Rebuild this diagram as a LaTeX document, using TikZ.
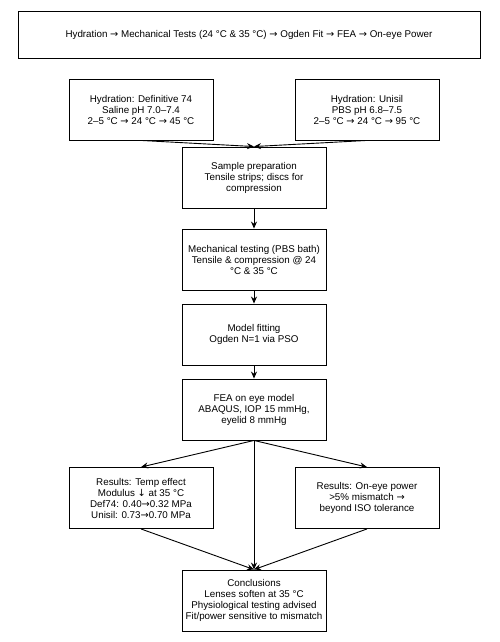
\documentclass[tikz,border=0pt]{standalone}
\usepackage{fontspec}
\setmainfont{Liberation Sans}
\newfontfamily\arrowfont{DejaVu Sans}
\newcommand{\ra}{{\arrowfont →}}
\newcommand{\da}{{\arrowfont ↓}}
\usetikzlibrary{arrows.meta}
\begin{document}
\begin{tikzpicture}[
			x=1pt, y=-1pt,
			box/.style={draw, line width=0.9pt, minimum width=144pt, minimum height=61pt,
					align=center, font=\fontsize{9.8}{11}\selectfont},
			flow/.style={-{Stealth[length=7pt,width=6pt]}, line width=0.9pt}
		]
		\useasboundingbox (0,0) rectangle (499,642);
		\node[box, minimum width=462pt, minimum height=47pt] (summary) at (249,34.5)
			{Hydration \ra{} Mechanical Tests (24 °C \& 35 °C) \ra{} Ogden Fit \ra{} FEA \ra{} On-eye Power};
		\node[box] (hydDef) at (141,109.5) {Hydration: Definitive 74\\Saline pH 7.0–7.4\\2–5 °C \ra{} 24 °C \ra{} 45 °C};
		\node[box] (hydUni) at (367,109.5) {Hydration: Unisil\\PBS pH 6.8–7.5\\2–5 °C \ra{} 24 °C \ra{} 95 °C};
		\node[box] (prep) at (254,177.5) {Sample preparation\\Tensile strips; discs for\\compression};
		\node[box] (mech) at (254,259.5) {Mechanical testing (PBS bath)\\Tensile \& compression @ 24\\°C \& 35 °C};
		\node[box] (fit) at (254,334.5) {Model fitting\\Ogden N=1 via PSO};
		\node[box] (fea) at (254,409.5) {FEA on eye model\\ABAQUS, IOP 15 mmHg,\\eyelid 8 mmHg};
		\node[box] (resTemp) at (141,498) {Results: Temp effect\\Modulus \da{} at 35 °C\\Def74: 0.40\ra{}0.32 MPa\\Unisil: 0.73\ra{}0.70 MPa};
		\node[box] (resPower) at (367,498) {Results: On-eye power\\>5\% mismatch \ra{}\\beyond ISO tolerance};
		\node[box] (concl) at (254,600.5) {Conclusions\\Lenses soften at 35 °C\\Physiological testing advised\\Fit/power sensitive to mismatch};
		% connectors
		\draw[flow] (hydDef.south) -- (prep.north);
		\draw[flow] (hydUni.south) -- (prep.north);
		\draw[flow] (prep) -- (mech);
		\draw[flow] (mech) -- (fit);
		\draw[flow] (fit) -- (fea);
		\draw[flow] (fea.south) -- (resTemp.north);
		\draw[flow] (fea.south) -- (resPower.north);
		\draw[flow] (fea.south) -- (concl.north);
		\draw[flow] (resTemp.south) -- (concl.north);
		\draw[flow] (resPower.south) -- (concl.north);
	\end{tikzpicture}
\end{document}
